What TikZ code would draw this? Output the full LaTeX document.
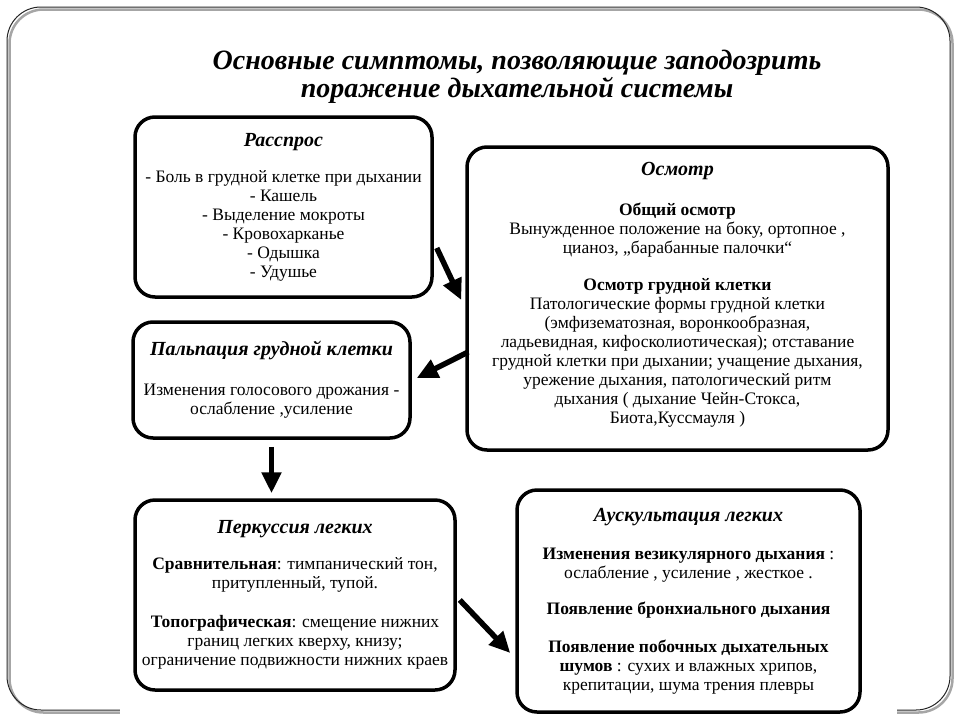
\documentclass[tikz,border=0pt]{standalone}
\usepackage{fontspec}
\setmainfont{Liberation Serif}
\usetikzlibrary{arrows.meta}
\newcommand{\boxttl}{\fontsize{20}{19}\selectfont\bfseries\itshape}
\begin{document}
\begin{tikzpicture}[x=1pt,y=-1pt,
  box/.style={draw, line width=3.5pt, rounded corners=20pt, inner sep=0pt, align=center,
    font=\fontsize{17.5}{19}\selectfont},
  arr/.style={line width=5.5pt, -{Triangle[length=21pt,width=19pt]}}]
\useasboundingbox (0,0) rectangle (960,720);
\fill[white] (0,0) rectangle (960,720);
% slide frame
\draw[black!35, line width=2.5pt, rounded corners=34pt] (9.5,9.5) rectangle (952.5,712.5);
\draw[black!85, line width=1pt, rounded corners=34pt] (7,7) rectangle (950,710);
\fill[white] (120,703) rectangle (897,718);
% title
\node[align=center, font=\fontsize{28}{28}\selectfont\bfseries\itshape] (title) at (517,77)
  {Основные симптомы, позволяющие заподозрить\\поражение дыхательной системы};
% boxes
\node[box, minimum width=297pt, minimum height=180pt] (rassp) at (283.5,207) {%
{\boxttl Расспрос}\\[17pt]
- Боль в грудной клетке при дыхании\\
- Кашель\\
- Выделение мокроты\\
- Кровохарканье\\
- Одышка\\
- Удушье};
\node[box, minimum width=421pt, minimum height=303pt] (osm) at (677.5,298.5) {%
{\boxttl Осмотр}\\[21pt]
\textbf{Общий осмотр}\\
Вынужденное положение на боку, ортопное ,\\
цианоз, „барабанные палочки“\\[18pt]
\textbf{Осмотр грудной клетки}\\
Патологические формы грудной клетки\\
(эмфизематозная, воронкообразная,\\
ладьевидная, кифосколиотическая); отставание\\
грудной клетки при дыхании; учащение дыхания,\\
урежение дыхания, патологический ритм\\
дыхания ( дыхание Чейн-Стокса,\\
Биота,Куссмауля )\\[-8pt]\mbox{}};
\node[box, minimum width=277pt, minimum height=116pt] (palp) at (271.5,380) {%
{\boxttl Пальпация грудной клетки}\\[21pt]
Изменения голосового дрожания -\\
ослабление ,усиление};
\node[box, minimum width=320pt, minimum height=190pt] (perk) at (295,595) {%
{\boxttl Перкуссия легких}\\[17pt]
\textbf{Сравнительная}: тимпанический тон,\\
притупленный, тупой.\\[20pt]
\textbf{Топографическая}: смещение нижних\\
границ легких кверху, книзу;\\
ограничение подвижности нижних краев};
\node[box, minimum width=343pt, minimum height=222pt] (ausk) at (688.5,601) {%
{\boxttl Аускультация легких}\\[19pt]
\textbf{Изменения везикулярного дыхания} :\\
ослабление , усиление , жесткое .\\[17pt]
\textbf{Появление бронхиального дыхания}\\[19pt]
\textbf{Появление побочных дыхательных}\\
\textbf{шумов} : сухих и влажных хрипов,\\
крепитации, шума трения плевры};
% arrows
\draw[arr] ([xshift=3pt,yshift=-41pt]rassp.east) -- ([xshift=-4pt,yshift=-1.5pt]osm.west);
\draw[arr] ([xshift=3pt,yshift=-53.5pt]osm.west) -- ([xshift=5pt,yshift=2pt]palp.east);
\draw[arr, shorten <=7pt, shorten >=5pt] (palp.south) -- (palp.south |- perk.north);
\draw[arr] ([xshift=3pt,yshift=-5pt]perk.east) -- ([xshift=-5pt,yshift=-52pt]ausk.west);
\end{tikzpicture}
\end{document}
